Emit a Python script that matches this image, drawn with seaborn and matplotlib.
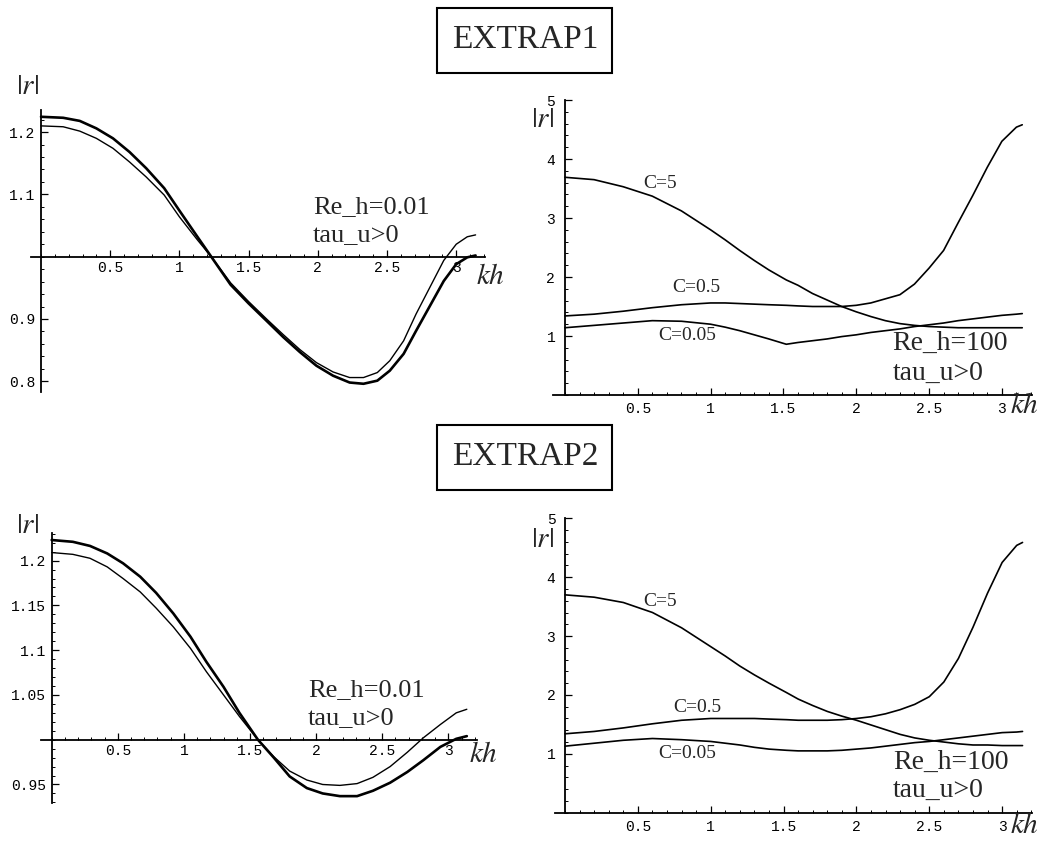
import matplotlib
matplotlib.use("Agg")
import matplotlib.pyplot as plt
from matplotlib.ticker import FixedLocator, FixedFormatter, MultipleLocator
from matplotlib.patches import Rectangle
import pandas as pd
import seaborn as sns

W, H = 1039, 841

# ---------------- EXTRAP1, Re_h = 0.01 ----------------
kh_e1_low = [0, 0.16, 0.28, 0.40, 0.52, 0.64, 0.76, 0.89, 1.00, 1.13, 1.23, 1.37, 1.50,
             1.63, 1.75, 1.87, 1.99, 2.11, 2.23, 2.33, 2.43, 2.52, 2.62, 2.71, 2.81,
             2.91, 3.00, 3.08, 3.14]
r_e1_low_a = [1.2246, 1.2230, 1.2180, 1.2060, 1.1900, 1.1680, 1.1420, 1.1100, 1.0740,
              1.0320, 1.0000, 0.9550, 0.9250, 0.8970, 0.8710, 0.8470, 0.8250, 0.8090,
              0.7980, 0.7960, 0.8010, 0.8170, 0.8440, 0.8810, 0.9210, 0.9610, 0.9880,
              0.9990, 1.0020]
r_e1_low_b = [1.2100, 1.2086, 1.2016, 1.1900, 1.1740, 1.1520, 1.1280, 1.0990, 1.0640,
              1.0270, 1.0000, 0.9580, 0.9280, 0.9000, 0.8750, 0.8510, 0.8300, 0.8150,
              0.8060, 0.8060, 0.8140, 0.8330, 0.8650, 0.9080, 0.9510, 0.9940, 1.0200,
              1.0320, 1.0350]

# ---------------- EXTRAP2, Re_h = 0.01 ----------------
kh_e2_low = [0, 0.16, 0.29, 0.42, 0.54, 0.67, 0.79, 0.92, 1.05, 1.17, 1.30, 1.42, 1.56,
             1.68, 1.80, 1.93, 2.05, 2.18, 2.31, 2.43, 2.56, 2.69, 2.81, 2.94, 3.06, 3.14]
r_e2_low_a = [1.2230, 1.2210, 1.2164, 1.2080, 1.1970, 1.1820, 1.1640, 1.1410, 1.1150,
              1.0870, 1.0590, 1.0300, 1.0000, 0.9800, 0.9590, 0.9460, 0.9400, 0.9370,
              0.9370, 0.9430, 0.9520, 0.9640, 0.9770, 0.9920, 1.0010, 1.0040]
r_e2_low_b = [1.2090, 1.2070, 1.2026, 1.1930, 1.1800, 1.1650, 1.1470, 1.1260, 1.1020,
              1.0760, 1.0500, 1.0260, 1.0000, 0.9810, 0.9650, 0.9550, 0.9500, 0.9490,
              0.9510, 0.9580, 0.9700, 0.9860, 1.0020, 1.0170, 1.0300, 1.0340]

# ---------------- Re_h = 100, three Courant numbers ----------------
kh_high = [0, 0.2, 0.4, 0.6, 0.8, 1.0, 1.1, 1.2, 1.3, 1.4, 1.52, 1.6, 1.7, 1.8, 1.9,
           2.0, 2.1, 2.2, 2.3, 2.4, 2.5, 2.6, 2.7, 2.8, 2.9, 3.0, 3.1, 3.14]
r_e1_c5 = [3.69, 3.65, 3.53, 3.37, 3.12, 2.80, 2.63, 2.45, 2.28, 2.12, 1.95, 1.86, 1.72,
           1.61, 1.50, 1.41, 1.33, 1.26, 1.21, 1.18, 1.16, 1.15, 1.14, 1.14, 1.14, 1.14,
           1.14, 1.14]
r_e1_c05 = [1.34, 1.37, 1.42, 1.48, 1.53, 1.56, 1.56, 1.55, 1.54, 1.53, 1.52, 1.51, 1.50,
            1.50, 1.50, 1.52, 1.56, 1.63, 1.70, 1.88, 2.15, 2.45, 2.92, 3.38, 3.86, 4.30,
            4.54, 4.58]
r_e1_c005 = [1.14, 1.18, 1.22, 1.26, 1.25, 1.20, 1.15, 1.09, 1.02, 0.95, 0.86, 0.89, 0.92,
             0.95, 0.99, 1.02, 1.06, 1.09, 1.12, 1.16, 1.19, 1.22, 1.26, 1.29, 1.32, 1.35,
             1.37, 1.38]
r_e2_c5 = [3.70, 3.66, 3.57, 3.40, 3.14, 2.82, 2.66, 2.49, 2.34, 2.20, 2.04, 1.93, 1.82,
           1.72, 1.64, 1.57, 1.49, 1.41, 1.33, 1.27, 1.23, 1.20, 1.17, 1.15, 1.15, 1.14,
           1.14, 1.14]
r_e2_c05 = [1.34, 1.38, 1.44, 1.51, 1.57, 1.60, 1.60, 1.60, 1.60, 1.59, 1.58, 1.57, 1.57,
            1.57, 1.58, 1.60, 1.63, 1.68, 1.75, 1.84, 1.97, 2.22, 2.62, 3.15, 3.73, 4.25,
            4.54, 4.59]
r_e2_c005 = [1.13, 1.18, 1.23, 1.26, 1.24, 1.21, 1.18, 1.15, 1.11, 1.08, 1.06, 1.05, 1.05,
             1.05, 1.06, 1.08, 1.10, 1.13, 1.16, 1.19, 1.21, 1.24, 1.27, 1.30, 1.33, 1.36,
             1.37, 1.38]

x_ticks = [0.5, 1, 1.5, 2, 2.5, 3]
x_tick_labels = ["0.5", "1", "1.5", "2", "2.5", "3"]
y_ticks_e1_low = [0.8, 0.9, 1.1, 1.2]
y_labels_e1_low = ["0.8", "0.9", "1.1", "1.2"]
y_ticks_e2_low = [0.95, 1.05, 1.1, 1.15, 1.2]
y_labels_e2_low = ["0.95", "1.05", "1.1", "1.15", "1.2"]
y_ticks_high = [1, 2, 3, 4, 5]
y_labels_high = ["1", "2", "3", "4", "5"]

sns.set_theme(style="white")
plt.rcParams["font.family"] = ["Liberation Serif", "DejaVu Serif"]
plt.rcParams["mathtext.fontset"] = "stix"

fig = plt.figure(figsize=(W / 100, H / 100), dpi=100)
fig.patch.set_facecolor("white")


def px_axes(left, right, top, bottom):
    return fig.add_axes([left / W, 1 - bottom / H, (right - left) / W, (bottom - top) / H])


def fx(x):
    return x / W


def fy(y):
    return 1 - y / H


def style_axes(ax, xlim, ylim, x0, y0, yticks, ylabels, yminor, xpad, ypad):
    ax.set_facecolor("none")
    ax.set_xlim(*xlim)
    ax.set_ylim(*ylim)
    for side in ("top", "right"):
        ax.spines[side].set_visible(False)
    ax.spines["left"].set_position(("data", x0))
    ax.spines["bottom"].set_position(("data", y0))
    for side in ("left", "bottom"):
        ax.spines[side].set_linewidth(1.3)
        ax.spines[side].set_color("black")
    ax.xaxis.set_major_locator(FixedLocator(x_ticks))
    ax.xaxis.set_major_formatter(FixedFormatter(x_tick_labels))
    ax.xaxis.set_minor_locator(MultipleLocator(0.1))
    ax.yaxis.set_major_locator(FixedLocator(yticks))
    ax.yaxis.set_major_formatter(FixedFormatter(ylabels))
    ax.yaxis.set_minor_locator(MultipleLocator(yminor))
    ax.tick_params(which="major", direction="in", length=5, width=0.9, color="black",
                   labelsize=10.5, labelcolor="black")
    ax.tick_params(which="minor", direction="in", length=2.5, width=0.7, color="black")
    ax.tick_params(axis="x", which="both", bottom=True, top=False, pad=xpad)
    ax.tick_params(axis="y", which="both", left=True, right=False, pad=ypad)
    for lab in ax.get_xticklabels() + ax.get_yticklabels():
        lab.set_fontfamily("Liberation Mono")
    ax.set_xlabel("")
    ax.set_ylabel("")
    ax.grid(False)


def draw_curve(ax, kh, r, lw):
    df = pd.DataFrame({"kh": kh, "r": r})
    sns.lineplot(data=df, x="kh", y="r", ax=ax, color="black", linewidth=lw,
                 sort=False, estimator=None, clip_on=False)


# ---- top-left: EXTRAP1, Re_h = 0.01 ----
ax1 = px_axes(31, 485, 110, 392)
draw_curve(ax1, kh_e1_low, r_e1_low_b, 1.0)
draw_curve(ax1, kh_e1_low, r_e1_low_a, 1.9)
style_axes(ax1, (-0.0723, 3.208), (0.7828, 1.2355), 0, 1.0,
           y_ticks_e1_low, y_labels_e1_low, 0.02, 3, 4)

# ---- top-right: EXTRAP1, Re_h = 100 ----
ax2 = px_axes(553, 1032, 100, 395)
for r in (r_e1_c5, r_e1_c05, r_e1_c005):
    draw_curve(ax2, kh_high, r, 1.2)
style_axes(ax2, (-0.082, 3.207), (0, 5), 0, 0,
           y_ticks_high, y_labels_high, 0.2, 5, 7)

# ---- bottom-left: EXTRAP2, Re_h = 0.01 ----
ax3 = px_axes(40.7, 477, 533.3, 803.3)
draw_curve(ax3, kh_e2_low, r_e2_low_b, 1.0)
draw_curve(ax3, kh_e2_low, r_e2_low_a, 1.9)
style_axes(ax3, (-0.083, 3.217), (0.929, 1.2305), 0, 1.0,
           y_ticks_e2_low, y_labels_e2_low, 0.01, 3, 4)

# ---- bottom-right: EXTRAP2, Re_h = 100 ----
ax4 = px_axes(555, 1032, 518.3, 812.7)
for r in (r_e2_c5, r_e2_c05, r_e2_c005):
    draw_curve(ax4, kh_high, r, 1.2)
style_axes(ax4, (-0.069, 3.205), (0, 5), 0, 0,
           y_ticks_high, y_labels_high, 0.2, 5, 7)

# ---- axis names ----
for (x, y) in [(28, 87), (28, 526), (543, 120), (543, 540)]:
    fig.text(fx(x), fy(y), r"$|r|$", fontsize=21, ha="center", va="center")
for (x, y) in [(490, 277), (483, 755)]:
    fig.text(fx(x), fy(y), r"$kh$", fontsize=21, ha="center", va="center")
for (x, y) in [(1010, 406), (1010, 826)]:
    fig.text(fx(x), fy(y), r"$kh$", fontsize=21, ha="left", va="center")

# ---- parameter annotations ----
fig.text(fx(313), fy(207), "Re_h=0.01", fontsize=19, ha="left", va="center")
fig.text(fx(313), fy(235), "tau_u>0", fontsize=19, ha="left", va="center")
fig.text(fx(308), fy(690), "Re_h=0.01", fontsize=19, ha="left", va="center")
fig.text(fx(308), fy(718), "tau_u>0", fontsize=19, ha="left", va="center")
fig.text(fx(892), fy(343), "Re_h=100", fontsize=20, ha="left", va="center")
fig.text(fx(893), fy(373), "tau_u>0", fontsize=20, ha="left", va="center")
fig.text(fx(893), fy(762), "Re_h=100", fontsize=20, ha="left", va="center")
fig.text(fx(893), fy(790), "tau_u>0", fontsize=20, ha="left", va="center")

# ---- Courant number labels ----
for (x, y, s) in [(643, 184, "C=5"), (672, 288, "C=0.5"), (658, 336, "C=0.05"),
                  (643, 602, "C=5"), (673, 707, "C=0.5"), (658, 753, "C=0.05")]:
    fig.text(fx(x), fy(y), s, fontsize=14, ha="left", va="center")

# ---- boxed scheme titles ----
for (cy, title) in [(40, "EXTRAP1"), (457, "EXTRAP2")]:
    fig.patches.append(Rectangle((fx(437), fy(cy + 32.5)), 175 / W, 65 / H,
                                 transform=fig.transFigure, fill=False,
                                 edgecolor="black", linewidth=1.5))
    fig.text(fx(525), fy(cy), title, fontsize=24, ha="center", va="center")

fig.savefig("out.png", dpi=100, facecolor="white")
